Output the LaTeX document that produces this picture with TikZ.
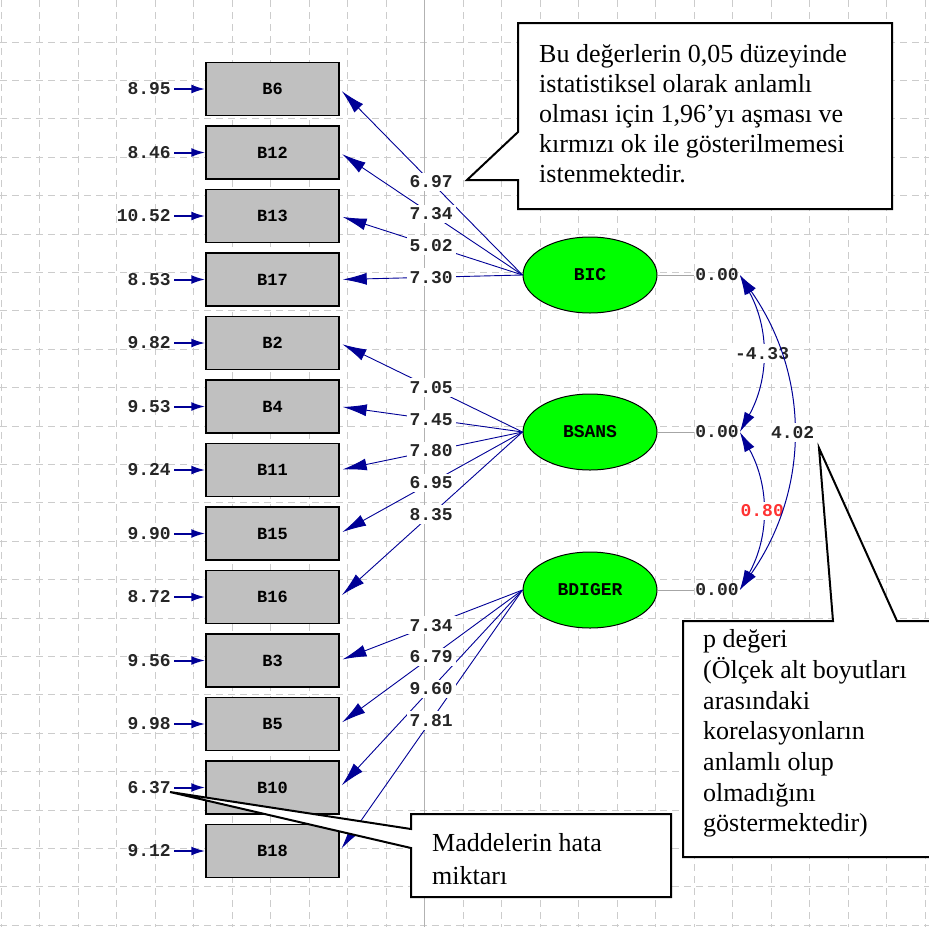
\documentclass[tikz,border=0pt]{standalone}
\usepackage{fontspec}
\setmainfont{Liberation Serif}
\newfontfamily\lisfont{Liberation Mono}
\usetikzlibrary{arrows.meta,calc,shapes.geometric}

\definecolor{lisblue}{RGB}{0,0,150}
\definecolor{lisgreen}{RGB}{0,255,0}
\definecolor{lisgray}{RGB}{192,192,192}
\definecolor{lisred}{RGB}{255,50,50}

\begin{document}
\begin{tikzpicture}[x=1pt,y=-1pt,
    obs/.style={draw,line width=1.5pt,fill=lisgray,minimum width=133pt,minimum height=53pt,inner sep=0pt,font=\fontsize{17}{18}\selectfont\lisfont\bfseries},
    lat/.style={ellipse,draw,line width=1pt,fill=lisgreen,minimum width=134pt,minimum height=76pt,inner sep=0pt,font=\fontsize{18}{18}\selectfont\lisfont\bfseries},
    num/.style={inner sep=1pt,text=black!85,font=\fontsize{18}{18}\selectfont\lisfont\bfseries},
    lbl/.style={num,fill=white,inner sep=3pt},
    load/.style={lisblue,line width=0.9pt,-{Latex[length=24pt,width=12pt]},shorten >=3pt},
    err/.style={lisblue,line width=2pt,-{Latex[length=14pt,width=9pt]},shorten <=2pt},
    cov/.style={lisblue,line width=1pt,{Latex[length=20pt,width=11pt]}-{Latex[length=20pt,width=11pt]}},
    callout/.style={draw,line width=2pt,fill=white},
    note/.style={anchor=north west,inner sep=0pt,align=left}
  ]
  \useasboundingbox (0,0) rectangle (929,927);
  \clip (0,0) rectangle (929,927);

  % background grid
  \foreach \k in {0,...,24}
    \draw[gray!40,line width=1pt,dash pattern=on 7pt off 5pt] ({1+38.5*\k},0) -- ({1+38.5*\k},927);
  \foreach \k in {0,...,23}
    \draw[gray!40,line width=1pt,dash pattern=on 7pt off 5pt] (0,{42+38.4*\k}) -- (929,{42+38.4*\k});
  \draw[gray!60,line width=1.5pt] (424.5,0) -- (424.5,927);

  % observed variables and error terms
  \foreach \name/\err [count=\i from 0] in {B6/8.95,B12/8.46,B13/10.52,B17/8.53,B2/9.82,B4/9.53,B11/9.24,B15/9.90,B16/8.72,B3/9.56,B5/9.98,B10/6.37,B18/9.12} {
    \node[obs] (\name) at (272.5,{89+63.5*\i}) {\name};
    \node[num,anchor=east] (e\name) at (172,{89+63.5*\i}) {\err};
    \draw[err] (e\name.east) -- (\name.west);
  }

  % latent variables
  \node[lat] (BIC) at (590,275) {BIC};
  \node[lat] (BSANS) at (590,432) {BSANS};
  \node[lat] (BDIGER) at (590,590) {BDIGER};

  \node[num] (vBIC) at (717,275) {0.00};
  \node[num] (vBSANS) at (717,432) {0.00};
  \node[num] (vBDIGER) at (717,590) {0.00};
  \foreach \lv in {BIC,BSANS,BDIGER}
    \draw[gray!70,line width=1pt] (\lv.east) -- (v\lv.west);

  % loadings
  \foreach \lv/\ov in {BIC/B6,BIC/B12,BIC/B13,BIC/B17,BSANS/B2,BSANS/B4,BSANS/B11,BSANS/B15,BSANS/B16,BDIGER/B3,BDIGER/B5,BDIGER/B10,BDIGER/B18}
    \draw[load] (\lv.west) -- (\ov.east);
  \foreach \lv/\ov/\val in {BIC/B6/6.97,BIC/B12/7.34,BIC/B13/5.02,BIC/B17/7.30,BSANS/B2/7.05,BSANS/B4/7.45,BSANS/B11/7.80,BSANS/B15/6.95,BSANS/B16/8.35,BDIGER/B3/7.34,BDIGER/B5/6.79,BDIGER/B10/9.60,BDIGER/B18/7.81}
    \node[lbl] (l\ov) at ($(\lv.west)!0.5!(\ov.east)$) {\val};

  % correlations
  \draw[cov] (vBIC.east) to[bend left=29] node[lbl] (c12) {-4.33} (vBSANS.east);
  \draw[cov] (vBSANS.east) to[bend left=29] node[lbl,text=lisred] (c23) {0.80} (vBDIGER.east);
  \draw[cov] (vBIC.east) to[bend left=35] node[lbl] (c13) {4.02} (vBDIGER.east);

  % callouts
  \draw[callout] (518,23) -- (892,23) -- (892,209) -- (518,209) -- (518,180) -- (467,180) -- (518,132) -- cycle;
  \node[note,font=\fontsize{26}{30}\selectfont] (n1) at (539,41) {\strut Bu değerlerin 0,05 düzeyinde\\istatistiksel olarak anlamlı\\olması için 1,96’yı aşması ve\\kırmızı ok ile gösterilmemesi\\istenmektedir.};

  \draw[callout] (683,621) -- (833,621) -- (819,448) -- (897,621) -- (935,621) -- (935,857) -- (683,857) -- cycle;
  \node[note,font=\fontsize{26}{30.7}\selectfont] (n2) at (703,626) {\strut p değeri\\(Ölçek alt boyutları\\arasındaki\\korelasyonların\\anlamlı olup\\olmadığını\\göstermektedir)};

  \draw[callout] (411,814) -- (671,814) -- (671,897) -- (411,897) -- (411,848) -- (170,792) -- (411,829) -- cycle;
  \node[note,font=\fontsize{26}{33}\selectfont] (n3) at (432,828) {\strut Maddelerin hata\\miktarı};
\end{tikzpicture}
\end{document}
